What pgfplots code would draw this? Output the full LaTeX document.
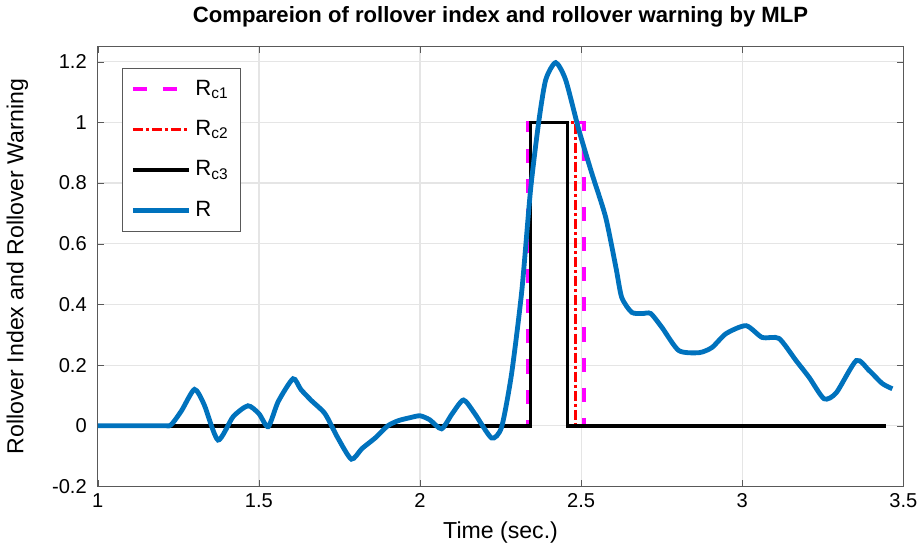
\documentclass[border=0pt]{standalone}
\usepackage{pgfplots}
\pgfplotsset{compat=1.18}
\usepackage{fontspec}
\setmainfont{Liberation Sans}
\definecolor{mblue}{rgb}{0,0.447,0.741}
\definecolor{mmag}{rgb}{1,0,1}
\begin{document}
\begin{tikzpicture}
\begin{axis}[
  width=401pt, height=219pt, scale only axis,
  xmin=1, xmax=3.5, ymin=-0.2, ymax=1.25,
  xtick={1,1.5,2,2.5,3,3.5},
  ytick={-0.2,0,0.2,0.4,0.6,0.8,1,1.2},
  tick align=inside,
  major tick length=3pt,
  grid=major,
  major grid style={gray!20, line width=0.6pt},
  axis line style={gray!70!black, line width=0.6pt},
  tick style={gray!70!black},
  /pgf/number format/assume math mode=true,
  ticklabel style={font=\fontsize{10}{12}\selectfont},
  yticklabel style={xshift=-2pt},
  xlabel={Time (sec.)},
  ylabel={Rollover Index and Rollover Warning},
  xlabel style={font=\fontsize{11.5}{13}\selectfont, yshift=0pt},
  ylabel style={font=\fontsize{11.5}{13}\selectfont, yshift=5pt},
  title={Compareion of rollover index and rollover warning by MLP},
  title style={font=\bfseries\fontsize{11}{13}\selectfont, yshift=0pt},
  legend style={at={(0.03,0.952)}, anchor=north west, draw=gray!70!black,
    font=\fontsize{11}{13}\selectfont, row sep=7pt, inner sep=4pt},
  legend cell align=left,
  legend image code/.code={\draw[#1] (0pt,0pt) -- (28pt,0pt);},
]
\addplot[mmag, line width=1.8pt, dash pattern=on 7pt off 8pt] coordinates {
  (1,0) (2.334,0) (2.334,1) (2.508,1) (2.508,0) (3.447,0)};
\addlegendentry{R\textsubscript{c1}}
\addplot[red, line width=1.8pt, dash pattern=on 5pt off 1.5pt on 1.5pt off 1.5pt] coordinates {
  (1,0) (2.343,0) (2.343,1) (2.483,1) (2.483,0) (3.447,0)};
\addlegendentry{R\textsubscript{c2}}
\addplot[black, line width=1.8pt] coordinates {
  (1,0) (2.343,0) (2.343,1) (2.458,1) (2.458,0) (3.447,0)};
\addlegendentry{R\textsubscript{c3}}
\addplot[mblue, line width=2.4pt, smooth, tension=0.4] coordinates {
  (1,0) (1.20,0) (1.227,0.003) (1.26,0.05) (1.30,0.12) (1.33,0.07) (1.373,-0.047) (1.42,0.03)
  (1.466,0.066) (1.50,0.04) (1.529,-0.003) (1.56,0.08) (1.606,0.155) (1.63,0.12) (1.663,0.083)
  (1.705,0.04) (1.745,-0.04) (1.787,-0.11) (1.82,-0.075) (1.861,-0.04) (1.90,0.0)
  (1.933,0.017) (1.97,0.027) (2.0,0.033) (2.03,0.02) (2.067,-0.01) (2.10,0.04) (2.135,0.085)
  (2.17,0.04) (2.222,-0.04) (2.253,-0.005) (2.284,0.17) (2.316,0.446) (2.343,0.777)
  (2.368,0.998) (2.39,1.14) (2.421,1.197) (2.452,1.14) (2.493,0.975) (2.533,0.833)
  (2.576,0.688) (2.608,0.522) (2.626,0.423) (2.657,0.374) (2.690,0.37) (2.716,0.37)
  (2.751,0.324) (2.803,0.248) (2.866,0.241) (2.906,0.258) (2.950,0.304) (3.012,0.33)
  (3.062,0.291) (3.114,0.288) (3.167,0.215) (3.208,0.159) (3.254,0.089) (3.292,0.109)
  (3.354,0.215) (3.394,0.182) (3.435,0.139) (3.466,0.122)};
\addlegendentry{R}
\end{axis}
\end{tikzpicture}
\end{document}
